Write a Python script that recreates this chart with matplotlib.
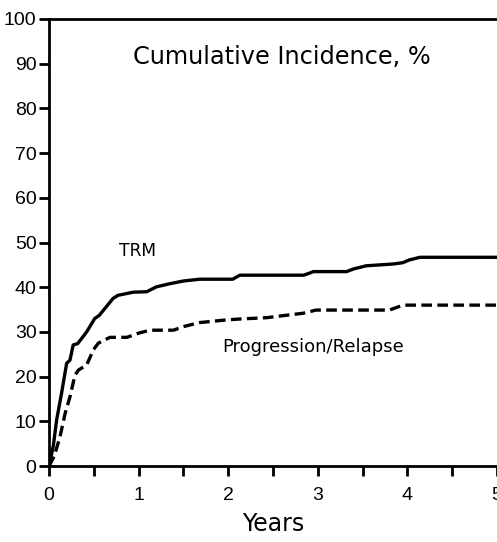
import matplotlib
matplotlib.use("Agg")
import matplotlib.pyplot as plt
from matplotlib.ticker import MultipleLocator

# cumulative incidence curves (years, %)
trm_years = [0, 0.048, 0.085, 0.14, 0.197, 0.234, 0.27, 0.32, 0.42, 0.51, 0.56,
             0.715, 0.77, 0.94, 1.09, 1.2, 1.35, 1.5, 1.68, 2.05, 2.13, 2.84,
             2.9, 2.95, 3.32, 3.4, 3.54, 3.84, 3.95, 4.02, 4.14, 5.0]
trm_pct = [0, 4.5, 10.3, 16.3, 23.0, 23.7, 27.1, 27.4, 30.0, 33.0, 33.7,
           37.5, 38.2, 38.9, 39.0, 40.1, 40.8, 41.4, 41.8, 41.8, 42.7, 42.7,
           43.1, 43.5, 43.5, 44.1, 44.8, 45.2, 45.5, 46.1, 46.7, 46.7]

rel_years = [0, 0.06, 0.123, 0.18, 0.234, 0.29, 0.33, 0.42, 0.495, 0.55, 0.68,
             0.87, 1.01, 1.13, 1.39, 1.5, 1.68, 1.98, 2.13, 2.43, 2.84, 2.98,
             3.8, 3.95, 5.0]
rel_pct = [0, 2.3, 6.6, 11.8, 15.5, 20.4, 21.5, 22.6, 26.0, 27.5, 28.8,
           28.8, 29.8, 30.4, 30.4, 31.2, 32.1, 32.7, 32.9, 33.2, 34.2, 34.9,
           34.9, 36.0, 36.0]

tick_font = ['Liberation Sans Narrow', 'Liberation Sans', 'DejaVu Sans']

fig = plt.figure(figsize=(4.97, 5.42), dpi=100)
ax = fig.add_axes([0.0986, 0.140, 0.9014, 0.825])

ax.plot(trm_years, trm_pct, color='black', lw=2.4, solid_capstyle='butt')
ax.plot(rel_years, rel_pct, color='black', lw=2.4, linestyle=(0, (3.2, 1.6)))

ax.set_xlim(0, 5)
ax.set_ylim(0, 100)
ax.xaxis.set_major_locator(MultipleLocator(1))
ax.xaxis.set_minor_locator(MultipleLocator(0.5))
ax.yaxis.set_major_locator(MultipleLocator(10))

for s in ['left', 'bottom', 'top']:
    ax.spines[s].set_linewidth(2)
ax.spines['right'].set_visible(False)

ax.tick_params(axis='both', which='major', direction='out', length=7, width=2,
               labelsize=14, pad=2)
ax.tick_params(axis='x', which='minor', direction='out', length=7, width=2)
ax.tick_params(axis='x', pad=8)
for lab in ax.get_xticklabels() + ax.get_yticklabels():
    lab.set_family(tick_font)

ax.text(2.6, 91.5, 'Cumulative Incidence, %', fontsize=17.3, ha='center', va='center')
ax.text(0.99, 48.1, 'TRM', fontsize=12.3, ha='center', va='center')
ax.text(1.93, 26.6, 'Progression/Relapse', fontsize=13, ha='left', va='center')
ax.set_xlabel('Years', fontsize=17, labelpad=6)

fig.savefig('out.png', dpi=100)
